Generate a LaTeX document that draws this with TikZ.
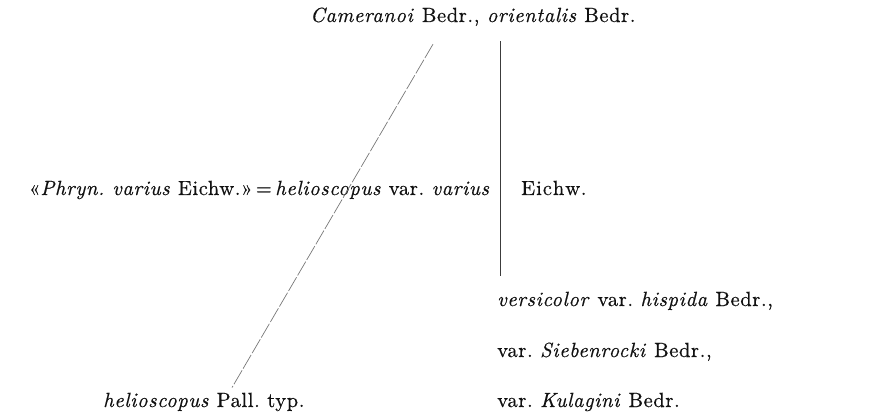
\documentclass[tikz,border=0pt]{standalone}
\usepackage{fontspec}
\setmainfont{lmroman10-regular.otf}[ItalicFont=lmroman10-italic.otf, LetterSpace=3, FakeBold=0.5]
\usepackage{xcolor}
\usepackage{tikz}
\usetikzlibrary{positioning,calc}
\definecolor{ink}{HTML}{111111}
\definecolor{bk70}{HTML}{3C3C3C}
\definecolor{bk50}{HTML}{777777}
\frenchspacing
\tikzset{
  taxon/.style={
    font=\fontsize{20.5}{25}\selectfont, text=ink,
    inner sep=0pt, anchor=base west
  },
  stemline/.style={draw=bk70, line width=0.9pt},
  crossline/.style={draw=bk50, line width=0.7pt, dash pattern=on 16pt off 2pt},
}

\begin{document}
\begin{tikzpicture}[x=1pt, y=-1pt]
  \useasboundingbox (0,0) rectangle (896,419);
  \node[taxon] at (310,22) (top) {\textit{Cameranoi} Bedr., \textit{orientalis} Bedr.};
  \node[taxon, anchor=base east] at (490,195) (phryn) {«\textit{Phryn. varius} Eichw.»\,=\,\textit{helioscopus} var. \textit{varius}};
  \node[taxon] at (521,195) (eichw) {E\kern1pt i\kern1pt c\kern1pt h\kern1pt w.};
  \node[taxon] at (497,306) (versi) {\textit{versicolor} var. \textit{hispida} Bedr.,};
  \node[taxon] at (497,357) (sieb) {var. \textit{Siebenrocki} Bedr.,};
  \node[taxon] at (497,407) (kul) {var. \textit{Kulagini} Bedr.};
  \node[taxon] at (103,407) (pall) {\textit{helioscopus} Pall. typ.};
  \draw[stemline] ($(top.south -| versi.north west)+(3,15)$) -- ($(versi.north west)+(3,-16)$);
  \draw[crossline] ($(top.south west)+(123,18)$) -- ($(pall.north west)+(129,-5)$);
\end{tikzpicture}
\end{document}
